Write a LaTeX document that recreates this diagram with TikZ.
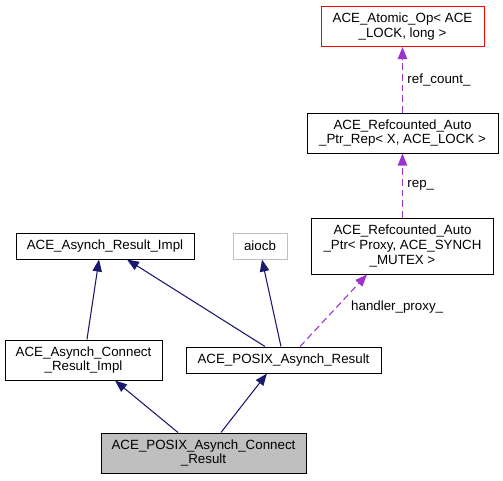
\documentclass[tikz,border=0pt]{standalone}
\usepackage{fontspec}
\setmainfont{Liberation Sans}
\usetikzlibrary{arrows.meta,positioning}
\definecolor{inhcol}{HTML}{191970}
\definecolor{memcol}{HTML}{9A32CD}
\definecolor{boxgray}{HTML}{BFBFBF}

\begin{document}
\begin{tikzpicture}[x=0.75pt,y=-0.75pt,
        class/.style={draw=black,line width=0.75pt,inner sep=0pt,align=center,
            font=\fontsize{10pt}{11pt}\selectfont,fill=white},
        inherit/.style={-{Triangle[length=9pt,width=7pt]},color=inhcol,line width=0.8pt},
        member/.style={-{Triangle[length=9pt,width=7pt]},color=memcol,line width=0.8pt,
            dash pattern=on 5pt off 3pt},
        lbl/.style={font=\fontsize{10pt}{11pt}\selectfont,text=black}]
        \useasboundingbox (0,0) rectangle (503,480);

        % Classes
        \node[class,draw=red,minimum width=122.25pt,minimum height=30pt] (atomic) at (402.5, 26.5)
            {ACE\_Atomic\_Op< ACE\\\_LOCK, long >};
        \node[class,minimum width=143.25pt,minimum height=30pt] (rep) at (402.5, 133)
            {ACE\_Refcounted\_Auto\\\_Ptr\_Rep< X, ACE\_LOCK >};
        \node[class,minimum width=136pt,minimum height=42pt] (ptr) at (402.5, 246)
            {ACE\_Refcounted\_Auto\\\_Ptr< Proxy, ACE\_SYNCH\\\_MUTEX >};
        \node[class,minimum width=133.5pt,minimum height=19.5pt] (resimpl) at (105, 246)
            {ACE\_Asynch\_Result\_Impl};
        \node[class,draw=boxgray,minimum width=40.5pt,minimum height=19.5pt] (aiocb) at (260, 246)
            {aiocb};
        \node[class,minimum width=117.75pt,minimum height=30pt] (connimpl) at (83.5, 360)
            {ACE\_Asynch\_Connect\\\_Result\_Impl};
        \node[class,minimum width=146.25pt,minimum height=19.5pt] (posix) at (283.5, 360)
            {ACE\_POSIX\_Asynch\_Result};
        \node[class,fill=boxgray,minimum width=153.75pt,minimum height=30pt] (posixconn) at (203.5, 453)
            {ACE\_POSIX\_Asynch\_Connect\\\_Result};

        % Inheritance
        \draw[inherit] ([xshift=2.6pt]connimpl.north) -- ([xshift=-4.5pt]resimpl.south);
        \draw[inherit] ([xshift=-13.9pt]posix.north) -- ([xshift=16.5pt]resimpl.south);
        \draw[inherit] ([xshift=-1.9pt]posix.north) -- ([xshift=1.5pt]aiocb.south);
        \draw[inherit] ([xshift=-19.1pt]posixconn.north) -- ([xshift=23.6pt]connimpl.south);
        \draw[inherit] ([xshift=13.1pt]posixconn.north) -- ([xshift=-12.4pt]posix.south);

        % Members
        \draw[member] ([xshift=12.4pt]posix.north) -- node[lbl,pos=0.55,right=7pt] {handler\_proxy\_}
            ([xshift=-26.6pt]ptr.south);
        \draw[member] (ptr.north) -- node[lbl,right] {rep\_} (rep.south);
        \draw[member] (rep.north) -- node[lbl,right] {ref\_count\_} (atomic.south);
    \end{tikzpicture}
\end{document}
